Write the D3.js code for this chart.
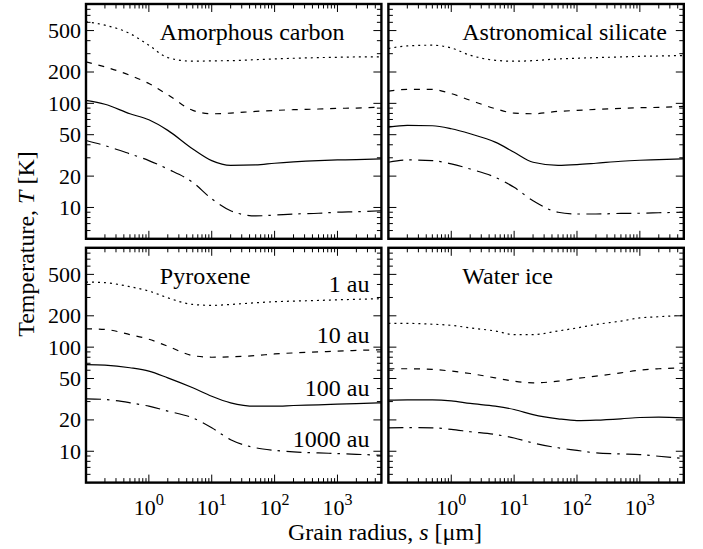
<!DOCTYPE html>
<html><head><meta charset="utf-8">
<script src="https://cdn.jsdelivr.net/npm/d3@7"></script>
<style>
html,body{margin:0;padding:0;background:#fff;}
</style></head>
<body>
<svg id="chart" width="703" height="549" style="font-family:'Liberation Serif','Times New Roman',Times,'DejaVu Serif',serif"></svg>
<script>
// ---------- data ----------
const grainRadius = [0.1, 0.2, 0.5, 1, 2, 5, 10, 20, 50, 100, 200, 500, 1000, 2000, 5000];
const distances = ["1 au", "10 au", "100 au", "1000 au"];
const materials = ["Amorphous carbon", "Astronomical silicate", "Pyroxene", "Water ice"];

const amorphousCarbon1 = [607, 564, 468, 362, 275, 254, 256, 257, 263, 267, 271, 275, 277, 279, 279];
const amorphousCarbon10 = [250, 224, 186, 155, 121, 85.5, 79.4, 80.6, 83.7, 85.5, 86.9, 88.2, 89.5, 90.1, 92];
const amorphousCarbon100 = [107, 98, 79.4, 69.5, 55, 36.5, 28.2, 25.4, 25.6, 26.6, 27.4, 28.2, 28.6, 28.8, 29.3];
const amorphousCarbon1000 = [44, 39.3, 32.7, 28.2, 23.4, 17.4, 12.1, 9.3, 8.3, 8.45, 8.65, 8.8, 9.0, 9.1, 9.3];

const silicate1 = [336, 356, 362, 340, 290, 259, 254, 257, 267, 271, 275, 279, 283, 285, 288];
const silicate10 = [131, 136, 136, 124, 107, 89, 80.6, 79.4, 83.7, 85.5, 87.5, 89.5, 90.8, 91.4, 93.5];
const silicate100 = [59.1, 61.4, 60.9, 57, 51, 42.4, 33.9, 27.2, 25.4, 25.8, 26.6, 27.8, 28.4, 28.8, 29.3];
const silicate1000 = [27.2, 28.6, 28.2, 26.2, 23.4, 19.5, 15.6, 11.6, 9.0, 8.65, 8.65, 8.77, 8.8, 8.9, 9.0];

const pyroxene1 = [422, 416, 381, 346, 298, 257, 252, 257, 267, 273, 277, 281, 285, 288, 292];
const pyroxene10 = [150, 148, 132, 119, 102, 83, 80, 80.6, 83, 86, 88, 90, 91.6, 93, 94.4];
const pyroxene100 = [68, 67.2, 63.4, 58.9, 50.7, 40.7, 33.8, 29.2, 27.1, 27.1, 27.5, 27.9, 28.3, 28.7, 29.2];
const pyroxene1000 = [31.9, 31.4, 29.2, 27.1, 24.3, 20.9, 16.8, 12.9, 10.8, 10.2, 9.86, 9.64, 9.5, 9.35, 9.16];

const waterIce1 = [169, 169, 166, 162, 153, 143, 132, 132, 143, 153, 165, 178, 191, 196, 202];
const waterIce10 = [62, 62, 61.1, 58.9, 55.8, 50.7, 47.1, 45.4, 47.1, 50, 52.6, 56.7, 60.1, 62, 63.4];
const waterIce100 = [31, 31.2, 31.2, 30.5, 28.8, 27.1, 25.2, 22.5, 20.5, 19.7, 19.9, 20.5, 21.1, 21.3, 20.9];
const waterIce1000 = [16.8, 16.9, 16.8, 16.2, 15.4, 14.5, 13.4, 12.0, 10.8, 10.2, 9.64, 9.43, 9.29, 8.96, 8.51];

const yTickValues = [10, 20, 50, 100, 200, 500];
const xTickExponents = [0, 1, 2, 3];

// ---------- layout ----------
const FONT = "'Liberation Serif','Times New Roman',Times,'DejaVu Serif',serif";
const svg = d3.select("#chart");
const left0 = 86, top0 = 4, pw = 295.4, ph = 234.8, gapX = 7, gapY = 9;
const dashes = ["2,4", "6,6.8", null, "15,6,2.5,6.5"];

const panelSeries = [
  [amorphousCarbon1, amorphousCarbon10, amorphousCarbon100, amorphousCarbon1000],
  [silicate1, silicate10, silicate100, silicate1000],
  [pyroxene1, pyroxene10, pyroxene100, pyroxene1000],
  [waterIce1, waterIce10, waterIce100, waterIce1000]
];

const x = d3.scaleLog().domain([0.1, 5000]).range([0, pw]);
const y = d3.scaleLog().domain([5, 900]).range([ph, 0]);

const xMajor = [0.1, 1, 10, 100, 1000];
const xMinor = [];
for (let e = -1; e <= 3; e++) for (let m = 2; m <= 9; m++) { const v = m * Math.pow(10, e); if (v <= 5000) xMinor.push(v); }
const yMinor = [];
for (let e = 0; e <= 2; e++) for (let m = 1; m <= 9; m++) { const v = m * Math.pow(10, e); if (v >= 5 && v <= 900 && !yTickValues.includes(v)) yMinor.push(v); }

const line = d3.line().x((d, i) => x(grainRadius[i])).y(d => y(d)).curve(d3.curveMonotoneX);

function txt(sel) { return sel.append("text").attr("font-family", FONT).attr("fill", "#000"); }

materials.forEach((name, k) => {
  const col = k % 2, row = Math.floor(k / 2);
  const ox = left0 + col * (pw + gapX), oy = top0 + row * (ph + gapY);
  const g = svg.append("g").attr("transform", `translate(${ox},${oy})`);

  g.append("clipPath").attr("id", "clip" + k).append("rect").attr("width", pw).attr("height", ph);

  const lg = g.append("g").attr("clip-path", `url(#clip${k})`);
  panelSeries[k].forEach((vals, j) => {
    lg.append("path").datum(vals).attr("d", line)
      .attr("fill", "none").attr("stroke", "#000").attr("stroke-width", 1.2)
      .attr("stroke-dasharray", dashes[j]);
  });

  const tk = g.append("g").attr("stroke", "#000").attr("stroke-width", 1);
  const majL = 8, minL = 4.5;
  xMajor.forEach(v => {
    tk.append("line").attr("x1", x(v)).attr("x2", x(v)).attr("y1", ph).attr("y2", ph - majL);
    tk.append("line").attr("x1", x(v)).attr("x2", x(v)).attr("y1", 0).attr("y2", majL);
  });
  xMinor.forEach(v => {
    tk.append("line").attr("x1", x(v)).attr("x2", x(v)).attr("y1", ph).attr("y2", ph - minL);
    tk.append("line").attr("x1", x(v)).attr("x2", x(v)).attr("y1", 0).attr("y2", minL);
  });
  yTickValues.forEach(v => {
    tk.append("line").attr("x1", 0).attr("x2", majL).attr("y1", y(v)).attr("y2", y(v));
    tk.append("line").attr("x1", pw).attr("x2", pw - majL).attr("y1", y(v)).attr("y2", y(v));
  });
  yMinor.forEach(v => {
    tk.append("line").attr("x1", 0).attr("x2", minL).attr("y1", y(v)).attr("y2", y(v));
    tk.append("line").attr("x1", pw).attr("x2", pw - minL).attr("y1", y(v)).attr("y2", y(v));
  });

  g.append("rect").attr("width", pw).attr("height", ph)
    .attr("fill", "none").attr("stroke", "#000").attr("stroke-width", 2.4);

  if (col === 0) {
    yTickValues.forEach(v => {
      txt(g).attr("x", -5).attr("y", y(v)).attr("dy", "0.34em")
        .attr("text-anchor", "end").attr("font-size", 22).text(v);
    });
  }
  if (row === 1) {
    xTickExponents.forEach(e => {
      const t = txt(g).attr("x", x(Math.pow(10, e))).attr("y", ph + 32)
        .attr("text-anchor", "middle").attr("font-size", 22);
      t.append("tspan").text("10");
      t.append("tspan").attr("dy", -10).attr("font-size", 16).text(e);
    });
  }

  txt(g).attr("x", pw * 0.25).attr("y", 36).attr("font-size", 24).text(name);

  if (k === 2) {
    const labelY = [292, 343, 396, 447];
    distances.forEach((d, j) => {
      txt(g).attr("x", pw - 12).attr("y", labelY[j] - oy)
        .attr("text-anchor", "end").attr("font-size", 24).text(d);
    });
  }
});

const yl = txt(svg).attr("transform", "translate(34,244) rotate(-90)")
  .attr("text-anchor", "middle").attr("font-size", 24);
yl.append("tspan").text("Temperature, ");
yl.append("tspan").attr("font-style", "italic").text("T");
yl.append("tspan").text(" [K]");

const xl = txt(svg).attr("x", 385).attr("y", 540)
  .attr("text-anchor", "middle").attr("font-size", 24);
xl.append("tspan").text("Grain radius, ");
xl.append("tspan").attr("font-style", "italic").text("s");
xl.append("tspan").text(" [\u03bcm]");
</script>
</body></html>
